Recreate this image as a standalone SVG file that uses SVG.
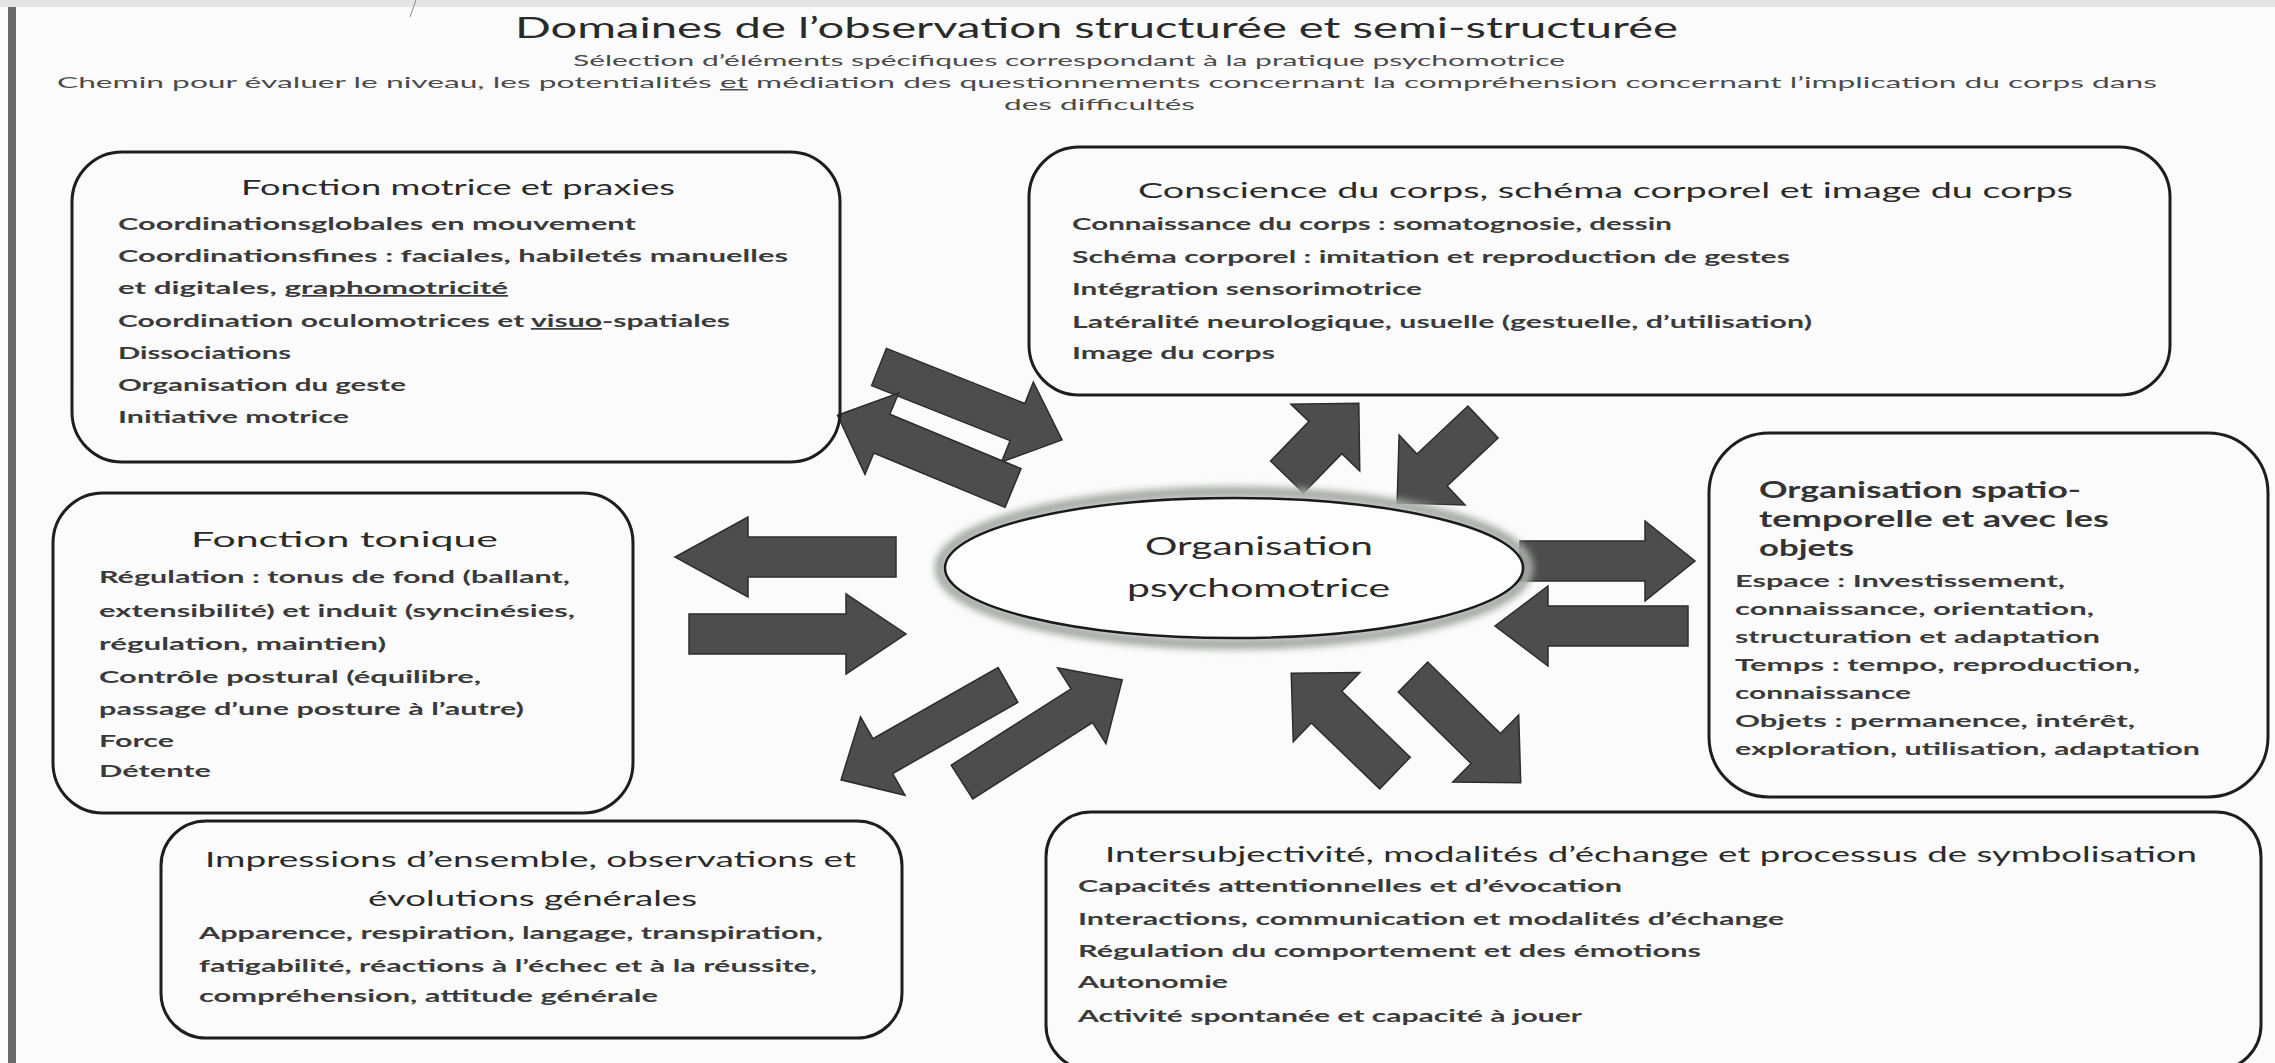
<svg xmlns="http://www.w3.org/2000/svg" width="2275" height="1063" viewBox="0 0 2275 1063">
<defs>
<style>
text{font-family:Lato,"Liberation Sans",sans-serif;}
.ttl{font-size:28px;fill:#2a2a2a;}
.sub{font-size:15px;fill:#4a4a4a;}
.head{font-size:21px;fill:#2a2a2a;}
.headb{font-size:23px;font-weight:700;fill:#333;}
.body{font-size:17px;font-weight:700;fill:#3a3a3a;}
.ctr{font-size:25px;fill:#2a2a2a;}
.box{fill:none;stroke:#1e1e1e;stroke-width:3;}
.arr{fill:#4d4d4d;stroke:#2c2c2c;stroke-width:1.5;stroke-linejoin:miter;}
</style>
<filter id="blur" x="-20%" y="-40%" width="140%" height="180%"><feGaussianBlur stdDeviation="3.5"/></filter>
</defs>
<rect x="0" y="0" width="2275" height="1063" fill="#fbfbfb"/>
<rect x="0" y="0" width="2275" height="7" fill="#e4e4e4"/>
<rect x="8" y="7" width="8" height="1056" fill="#6a6a6a"/>
<line x1="416" y1="0" x2="410" y2="17" stroke="#888" stroke-width="1"/>

<g id="header">
<text class="ttl" x="515" y="38" textLength="1163" lengthAdjust="spacingAndGlyphs">Domaines de l’observation structurée et semi-structurée</text>
<text class="sub" x="573" y="66" textLength="992" lengthAdjust="spacingAndGlyphs">Sélection d’éléments spécifiques correspondant à la pratique psychomotrice</text>
<text class="sub" x="57" y="88" textLength="2100" lengthAdjust="spacingAndGlyphs">Chemin pour évaluer le niveau, les potentialités <tspan text-decoration="underline">et</tspan> médiation des questionnements concernant la compréhension concernant l’implication du corps dans</text>
<text class="sub" x="1004" y="110" textLength="191" lengthAdjust="spacingAndGlyphs">des difficultés</text>
</g>

<g id="connectors">
<polygon class="arr" transform="translate(879,367) rotate(21.7)" points="0,-20 149,-20 149,-43 197,0 149,43 149,20 0,20"/>
<polygon class="arr" transform="translate(1013,488) rotate(202.5)" points="0,-21 142,-21 142,-44 190,0 142,44 142,21 0,21"/>
<polygon class="arr" transform="translate(1287,477) rotate(-45.8)" points="0,-23 55,-23 55,-48 103,0 55,48 55,23 0,23"/>
<polygon class="arr" transform="translate(1483,422) rotate(136.7)" points="0,-22 70,-22 70,-48 118,0 70,48 70,22 0,22"/>
<polygon class="arr" transform="translate(1008,685) rotate(150.4)" points="0,-20 144,-20 144,-45 192,0 144,45 144,20 0,20"/>
<polygon class="arr" transform="translate(962,782) rotate(-32.5)" points="0,-20 142,-20 142,-45 190,0 142,45 142,20 0,20"/>
<polygon class="arr" transform="translate(1395,773) rotate(223.9)" points="0,-22 95,-22 95,-48 144,0 95,48 95,22 0,22"/>
<polygon class="arr" transform="translate(1413,677) rotate(44.5)" points="0,-21 102,-21 102,-47 151,0 102,47 102,21 0,21"/>
<polygon class="arr" transform="translate(896,557) rotate(180)" points="0,-20 148,-20 148,-40 221,0 148,40 148,20 0,20"/>
<polygon class="arr" transform="translate(689,634)" points="0,-20 157,-20 157,-40 217,0 157,40 157,20 0,20"/>
<polygon class="arr" transform="translate(1520,561)" points="0,-20 125,-20 125,-40 175,0 125,40 125,20 0,20"/>
<polygon class="arr" transform="translate(1688,626) rotate(180)" points="0,-20 140,-20 140,-40 193,0 140,40 140,20 0,20"/>
</g>

<g id="center">
<ellipse cx="1234" cy="568" rx="294" ry="76" fill="none" stroke="#a5aaa5" stroke-width="11" filter="url(#blur)"/>
<ellipse cx="1234" cy="568" rx="289" ry="70" fill="#fdfdfd" stroke="#1a1a1a" stroke-width="2.5"/>
<text class="ctr" x="1145" y="555" textLength="228" lengthAdjust="spacingAndGlyphs">Organisation</text>
<text class="ctr" x="1127" y="597" textLength="263" lengthAdjust="spacingAndGlyphs">psychomotrice</text>
</g>

<g id="motrice">
<rect class="box" x="72" y="152" width="768" height="310" rx="50"/>
<text class="head" x="241" y="195" textLength="434" lengthAdjust="spacingAndGlyphs">Fonction motrice et praxies</text>
<text class="body" x="118" y="230" textLength="518" lengthAdjust="spacingAndGlyphs">Coordinationsglobales en mouvement</text>
<text class="body" x="118" y="262" textLength="670" lengthAdjust="spacingAndGlyphs">Coordinationsfines : faciales, habiletés manuelles</text>
<text class="body" x="118" y="294" textLength="390" lengthAdjust="spacingAndGlyphs">et digitales,  <tspan text-decoration="underline">graphomotricité</tspan></text>
<text class="body" x="118" y="327" textLength="612" lengthAdjust="spacingAndGlyphs">Coordination oculomotrices et <tspan text-decoration="underline">visuo</tspan>-spatiales</text>
<text class="body" x="118" y="359" textLength="173" lengthAdjust="spacingAndGlyphs">Dissociations</text>
<text class="body" x="118" y="391" textLength="288" lengthAdjust="spacingAndGlyphs">Organisation  du geste</text>
<text class="body" x="118" y="423" textLength="231" lengthAdjust="spacingAndGlyphs">Initiative motrice</text>
</g>

<g id="conscience">
<rect class="box" x="1029" y="147" width="1141" height="248" rx="50"/>
<text class="head" x="1138" y="198" textLength="935" lengthAdjust="spacingAndGlyphs">Conscience  du corps, schéma corporel et image du corps</text>
<text class="body" x="1072" y="230" textLength="600" lengthAdjust="spacingAndGlyphs">Connaissance du corps : somatognosie, dessin</text>
<text class="body" x="1072" y="263" textLength="718" lengthAdjust="spacingAndGlyphs">Schéma corporel : imitation et  reproduction de gestes</text>
<text class="body" x="1072" y="295" textLength="350" lengthAdjust="spacingAndGlyphs">Intégration sensorimotrice</text>
<text class="body" x="1072" y="328" textLength="740" lengthAdjust="spacingAndGlyphs">Latéralité neurologique, usuelle (gestuelle, d’utilisation)</text>
<text class="body" x="1072" y="359" textLength="203" lengthAdjust="spacingAndGlyphs">Image du corps</text>
</g>

<g id="tonique">
<rect class="box" x="53" y="493" width="580" height="320" rx="50"/>
<text class="head" x="191" y="547" textLength="307" lengthAdjust="spacingAndGlyphs">Fonction tonique</text>
<text class="body" x="99" y="583" textLength="471" lengthAdjust="spacingAndGlyphs">Régulation : tonus de fond (ballant,</text>
<text class="body" x="99" y="617" textLength="476" lengthAdjust="spacingAndGlyphs">extensibilité) et induit (syncinésies,</text>
<text class="body" x="99" y="650" textLength="287" lengthAdjust="spacingAndGlyphs">régulation, maintien)</text>
<text class="body" x="99" y="683" textLength="382" lengthAdjust="spacingAndGlyphs">Contrôle postural (équilibre,</text>
<text class="body" x="99" y="715" textLength="425" lengthAdjust="spacingAndGlyphs">passage  d’une posture à l’autre)</text>
<text class="body" x="99" y="747" textLength="75" lengthAdjust="spacingAndGlyphs">Force</text>
<text class="body" x="99" y="777" textLength="112" lengthAdjust="spacingAndGlyphs">Détente</text>
</g>

<g id="spatio">
<rect class="box" x="1709" y="433" width="559" height="364" rx="60"/>
<text class="headb" x="1759" y="498" textLength="322" lengthAdjust="spacingAndGlyphs">Organisation  spatio-</text>
<text class="headb" x="1759" y="527" textLength="350" lengthAdjust="spacingAndGlyphs">temporelle et avec les</text>
<text class="headb" x="1759" y="556" textLength="95" lengthAdjust="spacingAndGlyphs">objets</text>
<text class="body" x="1735" y="587" textLength="330" lengthAdjust="spacingAndGlyphs">Espace : Investissement,</text>
<text class="body" x="1735" y="615" textLength="359" lengthAdjust="spacingAndGlyphs">connaissance, orientation,</text>
<text class="body" x="1735" y="643" textLength="365" lengthAdjust="spacingAndGlyphs">structuration et adaptation</text>
<text class="body" x="1735" y="671" textLength="405" lengthAdjust="spacingAndGlyphs">Temps : tempo, reproduction,</text>
<text class="body" x="1735" y="699" textLength="176" lengthAdjust="spacingAndGlyphs">connaissance</text>
<text class="body" x="1735" y="727" textLength="400" lengthAdjust="spacingAndGlyphs">Objets : permanence, intérêt,</text>
<text class="body" x="1735" y="755" textLength="465" lengthAdjust="spacingAndGlyphs">exploration, utilisation, adaptation</text>
</g>

<g id="impressions">
<rect class="box" x="161" y="821" width="741" height="217" rx="45"/>
<text class="head" x="205" y="867" textLength="651" lengthAdjust="spacingAndGlyphs">Impressions d’ensemble, observations et</text>
<text class="head" x="368" y="906" textLength="329" lengthAdjust="spacingAndGlyphs">évolutions générales</text>
<text class="body" x="199" y="939" textLength="624" lengthAdjust="spacingAndGlyphs">Apparence, respiration, langage, transpiration,</text>
<text class="body" x="199" y="972" textLength="618" lengthAdjust="spacingAndGlyphs">fatigabilité, réactions à l’échec et à la réussite,</text>
<text class="body" x="199" y="1002" textLength="459" lengthAdjust="spacingAndGlyphs">compréhension, attitude générale</text>
</g>

<g id="intersubjectivite">
<rect class="box" x="1046" y="812" width="1215" height="258" rx="45"/>
<text class="head" x="1105" y="862" textLength="1092" lengthAdjust="spacingAndGlyphs" style="font-size:22px">Intersubjectivité, modalités d’échange  et processus de symbolisation</text>
<text class="body" x="1078" y="892" textLength="544" lengthAdjust="spacingAndGlyphs">Capacités attentionnelles et d’évocation</text>
<text class="body" x="1078" y="925" textLength="706" lengthAdjust="spacingAndGlyphs">Interactions, communication et modalités d’échange</text>
<text class="body" x="1078" y="957" textLength="623" lengthAdjust="spacingAndGlyphs">Régulation du comportement et des émotions</text>
<text class="body" x="1078" y="988" textLength="150" lengthAdjust="spacingAndGlyphs">Autonomie</text>
<text class="body" x="1078" y="1022" textLength="504" lengthAdjust="spacingAndGlyphs">Activité spontanée et capacité à jouer</text>
</g>
</svg>
